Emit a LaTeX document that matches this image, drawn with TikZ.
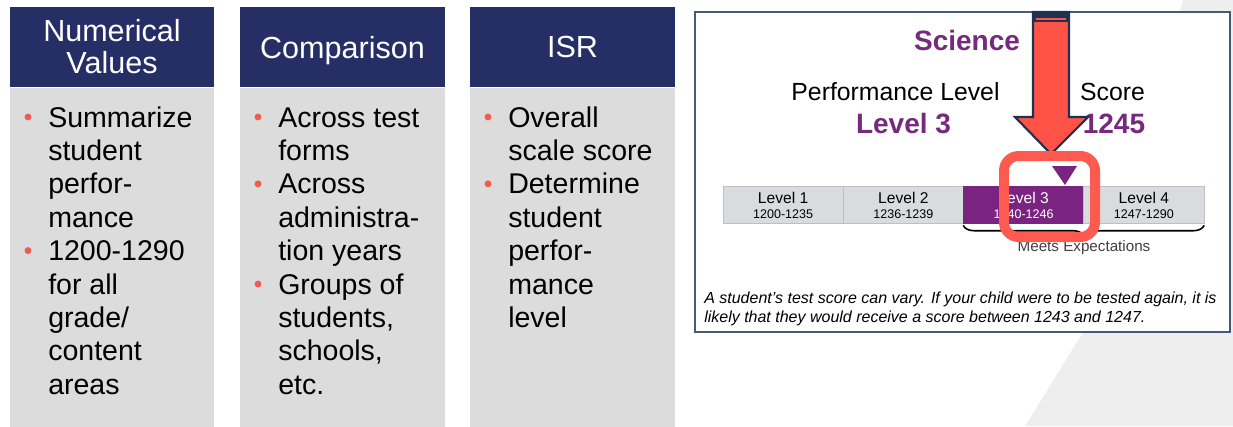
\documentclass[tikz,border=0pt]{standalone}
\usepackage{fontspec}
\setmainfont{Liberation Sans}
\usetikzlibrary{decorations.pathreplacing,positioning}

\definecolor{hdrblue}{HTML}{262E66}
\definecolor{bodygray}{HTML}{DCDCDC}
\definecolor{bulletred}{HTML}{F25A50}
\definecolor{sciencepurple}{HTML}{752A7E}
\definecolor{lvlpurple}{HTML}{7A2381}
\definecolor{lvlgray}{HTML}{D9DCDF}
\definecolor{lvlborder}{HTML}{BCC0C5}
\definecolor{arrowred}{HTML}{FF5348}
\definecolor{arrowline}{HTML}{1F3150}
\definecolor{boxred}{HTML}{FF5A50}
\definecolor{boxline}{HTML}{4A5A75}
\definecolor{slidegray}{HTML}{EFEEEE}

\begin{document}
\begin{tikzpicture}[x=0.75pt,y=-0.75pt,
  hdr/.style={fill=hdrblue,text=white,minimum width=153.5pt,minimum height=60pt,inner sep=0pt,align=center,font=\fontsize{22.9pt}{24pt}\selectfont},
  bodybox/.style={fill=bodygray,minimum width=153.5pt,minimum height=254.25pt,inner sep=0pt},
  line/.style={anchor=base west,inner sep=0pt,font=\fontsize{21.4pt}{25pt}\selectfont},
  dot/.style={circle,fill=bulletred,minimum size=5.2pt,inner sep=0pt},
  lvl/.style={draw=lvlborder,fill=lvlgray,minimum width=90.2pt,minimum height=27.75pt,inner sep=0pt,align=center,font=\fontsize{11.7pt}{11.2pt}\selectfont},
  lvlhi/.style={lvl,draw=lvlpurple,fill=lvlpurple,text=white},
  label/.style={anchor=base,inner sep=0pt}]

\useasboundingbox (0,0) rectangle (1233,426);
\fill[slidegray] (1025,426) -- (1100,305) -- (1183,0) -- (1233,0) -- (1233,426) -- cycle;

% the three columns
\node[hdr] (h1) at (112,47) {Numerical\\Values};
\node[hdr,text depth=0pt] (h2) at (342.5,47) {Comparison};
\node[hdr,text depth=0pt] (h3) at (572.5,47) {ISR};
\foreach \c in {1,2,3}
  \node[bodybox,below=0pt of h\c] (b\c) {};

\foreach \t [count=\i] in {Summarize,student,perfor-,mance,1200-1290,for all,grade/,content,areas}
  \node[line] (t1\i) at (48,{127+(\i-1)*33.4}) {\t};
\foreach \t [count=\i] in {Across test,forms,Across,administra-,tion years,Groups of,{students,},{schools,},etc.}
  \node[line] (t2\i) at (278,{127+(\i-1)*33.4}) {\t};
\foreach \t [count=\i] in {Overall,scale score,Determine,student,perfor-,mance,level}
  \node[line] (t3\i) at (508,{127+(\i-1)*33.4}) {\t};

% bullets
\foreach \c/\l in {1/1,1/5,2/1,2/3,2/6,3/1,3/3}
  \node[dot] (d\c\l) at ([xshift=-15pt,yshift=7.5pt]t\c\l.base west) {};

% report excerpt
\draw[boxline,line width=1.1pt,fill=white] (695,12) rectangle (1230,332);
\node[label,text=sciencepurple,font=\bfseries\fontsize{21pt}{24pt}\selectfont] (sci) at (967,50) {Science};
\node[label,font=\fontsize{18.6pt}{22pt}\selectfont] (perf) at (895.5,100) {Performance Level};
\node[label,font=\fontsize{18.6pt}{22pt}\selectfont] (score) at (1112.5,100) {Score};
\node[label,text=sciencepurple,font=\bfseries\fontsize{21pt}{24pt}\selectfont] (lvltxt) at (903.5,133) {Level 3};
\node[label,text=sciencepurple,font=\bfseries\fontsize{21pt}{24pt}\selectfont] (scoretxt) at (1114,133) {1245};

\foreach \r/\s [count=\n] in {1200-1235/lvl,1236-1239/lvl,1240-1246/lvlhi,1247-1290/lvl}
  \node[\s] (l\n) at ({783.1+(\n-1)*120.25},205) {Level \n\\{\fontsize{9.4pt}{11.2pt}\selectfont\r}};
\fill[lvlpurple] (1052,166) -- (1077,166) -- (1065,185) -- cycle;

\draw[decorate,decoration={brace,mirror,amplitude=8pt,raise=1.2pt},line width=1.2pt] (l3.south west) -- (l4.south east);
\node[text=black!75,font=\fontsize{11.4pt}{13pt}\selectfont] (meets) at (1084,248) {Meets Expectations};

\node[anchor=base west,inner sep=0pt,font=\itshape\fontsize{12pt}{14pt}\selectfont] (note1) at (704,303) {A student’s test score can vary. If your child were to be tested again, it is};
\node[anchor=base west,inner sep=0pt,font=\itshape\fontsize{12pt}{14pt}\selectfont] (note2) at (704,322) {likely that they would receive a score between 1243 and 1247.};

% callout
\draw[arrowline,line width=1.6pt,fill=arrowred,line join=miter] (1033,12) -- (1033,117) -- (1015,117) -- (1051,154) -- (1088,117) -- (1069,117) -- (1069,12) -- cycle;
\fill[arrowline] (1033,12) rectangle (1069,22);
\draw[arrowred,line width=0.8pt] (1036,19) -- (1066,19);
\draw[boxred,line width=7.5pt,rounded corners=11pt] (1004,156) rectangle (1095,237);
\end{tikzpicture}
\end{document}
